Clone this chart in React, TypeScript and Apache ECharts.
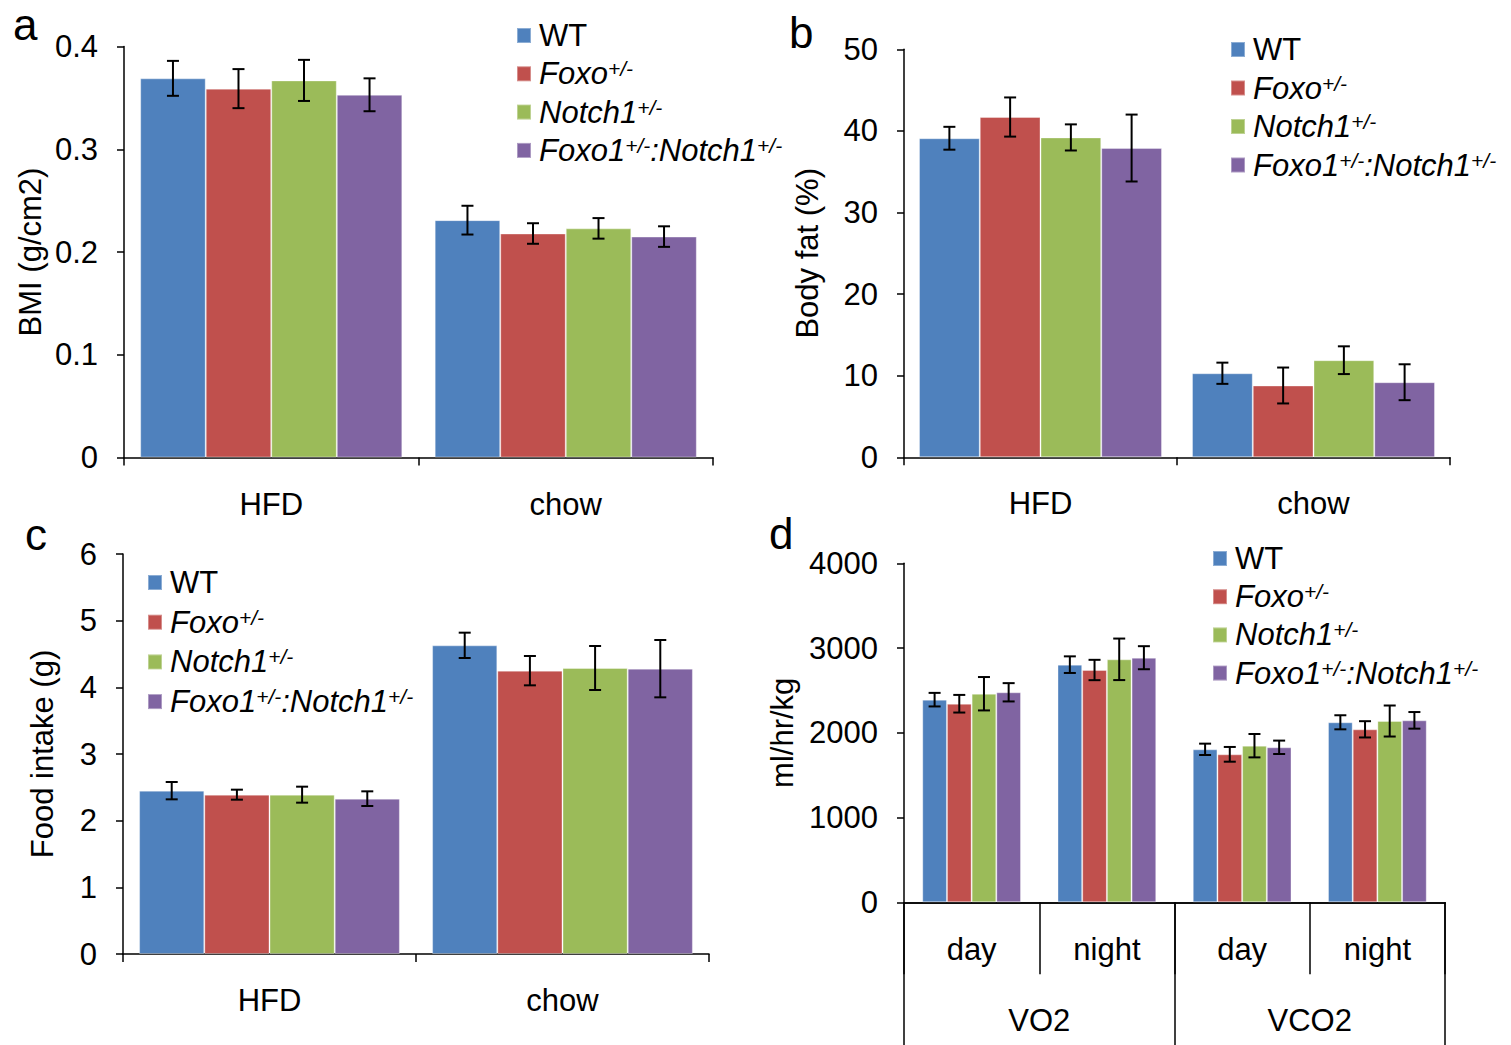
import React, { useEffect, useRef } from "react";
import * as echarts from "echarts";

// ---------- data ----------
const SERIES_NAMES = ["WT", "Foxo+/-", "Notch1+/-", "Foxo1+/-:Notch1+/-"];
const COLORS = ["#4F81BD", "#C0504D", "#9BBB59", "#8064A2"];

const DIET_CATS = ["HFD", "chow"];
const METAB_CATS = ["VO2|day", "VO2|night", "VCO2|day", "VCO2|night"];
const METAB_GROUPS = ["VO2", "VCO2"];

// panel a: BMI (g/cm2)
const bmiMeans = [
  [0.369, 0.231],
  [0.359, 0.218],
  [0.367, 0.223],
  [0.353, 0.215],
];
const bmiErrs = [
  [0.017, 0.014],
  [0.019, 0.01],
  [0.02, 0.01],
  [0.016, 0.01],
];

// panel b: Body fat (%)
const fatMeans = [
  [39.1, 10.3],
  [41.7, 8.8],
  [39.2, 11.9],
  [37.9, 9.2],
];
const fatErrs = [
  [1.4, 1.3],
  [2.4, 2.2],
  [1.6, 1.7],
  [4.1, 2.2],
];

// panel c: Food intake (g)
const foodMeans = [
  [2.45, 4.63],
  [2.39, 4.25],
  [2.39, 4.29],
  [2.33, 4.28],
];
const foodErrs = [
  [0.13, 0.19],
  [0.075, 0.22],
  [0.12, 0.33],
  [0.11, 0.43],
];

// panel d: ml/hr/kg
const metabMeans = [
  [2391, 2804, 1805, 2124],
  [2343, 2741, 1746, 2041],
  [2461, 2867, 1848, 2139],
  [2478, 2886, 1829, 2147],
];
const metabErrs = [
  [80, 98, 67, 83],
  [104, 120, 87, 96],
  [197, 245, 138, 183],
  [108, 136, 79, 98],
];

const FONT = '"Liberation Sans", Arial, Helvetica, sans-serif';
const FS = 31;

type Panel = {
  letter: string;
  letterX: number;
  letterY: number;
  grid: { left: number; top: number; width: number; height: number };
  cats: string[];
  means: number[][];
  errs: number[][];
  max: number;
  interval: number;
  yName: string;
  nameGap: number;
  gap: number;
  labelMargin: number;
  tickLen: number;
  legend: { left: number; top: number; itemGap: number };
};

const PANELS: Panel[] = [
  {
    letter: "a",
    letterX: 13,
    letterY: 2,
    grid: { left: 124, top: 46.5, width: 589, height: 411 },
    cats: DIET_CATS,
    means: bmiMeans,
    errs: bmiErrs,
    max: 0.4,
    interval: 0.1,
    yName: "BMI (g/cm2)",
    nameGap: 78,
    gap: 0.11,
    labelMargin: 31,
    tickLen: 8,
    legend: { left: 516, top: 20, itemGap: 7.3 },
  },
  {
    letter: "b",
    letterX: 789,
    letterY: 10,
    grid: { left: 904, top: 49.3, width: 546, height: 408 },
    cats: DIET_CATS,
    means: fatMeans,
    errs: fatErrs,
    max: 50,
    interval: 10,
    yName: "Body fat (%)",
    nameGap: 81,
    gap: 0.11,
    labelMargin: 31,
    tickLen: 8,
    legend: { left: 1230, top: 34, itemGap: 7.5 },
  },
  {
    letter: "c",
    letterX: 25,
    letterY: 512,
    grid: { left: 123, top: 554, width: 586, height: 400 },
    cats: DIET_CATS,
    means: foodMeans,
    errs: foodErrs,
    max: 6,
    interval: 1,
    yName: "Food intake (g)",
    nameGap: 65,
    gap: 0.11,
    labelMargin: 31,
    tickLen: 8,
    legend: { left: 147, top: 567, itemGap: 8.7 },
  },
  {
    letter: "d",
    letterX: 769,
    letterY: 511,
    grid: { left: 904, top: 563.3, width: 541, height: 339 },
    cats: METAB_CATS,
    means: metabMeans,
    errs: metabErrs,
    max: 4000,
    interval: 1000,
    yName: "ml/hr/kg",
    nameGap: 106,
    gap: 0.27,
    labelMargin: 32,
    tickLen: 72,
    legend: { left: 1212, top: 543, itemGap: 7.2 },
  },
];

function legendLabel(name: string): string {
  if (name === "WT") return "{n|WT}";
  if (name === "Foxo+/-") return "{i|Foxo}{s|+/-}";
  if (name === "Notch1+/-") return "{i|Notch1}{s|+/-}";
  return "{i|Foxo1}{s|+/-}{i|:Notch1}{s|+/-}";
}

const RICH = {
  n: { fontSize: FS, fontFamily: FONT, color: "#000", lineHeight: 31 },
  i: { fontSize: FS, fontFamily: FONT, fontStyle: "italic", color: "#000", lineHeight: 31 },
  s: {
    fontSize: 21,
    fontFamily: FONT,
    fontStyle: "italic",
    color: "#000",
    lineHeight: 26,
    verticalAlign: "top",
  },
};

function buildOption() {
  const grid: any[] = [];
  const xAxis: any[] = [];
  const yAxis: any[] = [];
  const series: any[] = [];
  const legend: any[] = [];
  const graphic: any[] = [];
  const axisLineStyle = { color: "#000", width: 1.5 };

  PANELS.forEach((p, pi) => {
    grid.push({ ...p.grid });
    xAxis.push({
      type: "category",
      gridIndex: pi,
      data: p.cats,
      axisLine: { show: true, lineStyle: axisLineStyle },
      axisTick: {
        show: true,
        alignWithLabel: false,
        interval: 0,
        length: p.tickLen,
        lineStyle: { color: "#000", width: 1.5 },
      },
      axisLabel: {
        color: "#000",
        fontSize: FS,
        fontFamily: FONT,
        margin: p.labelMargin,
        interval: 0,
        formatter: (v: string) => (v.indexOf("|") >= 0 ? v.split("|")[1] : v),
      },
    });
    yAxis.push({
      type: "value",
      gridIndex: pi,
      min: 0,
      max: p.max,
      interval: p.interval,
      name: p.yName,
      nameLocation: "middle",
      nameRotate: 90,
      nameGap: p.nameGap,
      nameTextStyle: { color: "#000", fontSize: FS, fontFamily: FONT },
      axisLine: { show: true, lineStyle: axisLineStyle },
      axisTick: { show: true, length: 7, lineStyle: { color: "#000", width: 1.5 } },
      axisLabel: {
        color: "#000",
        fontSize: FS,
        fontFamily: FONT,
        margin: 26,
        formatter: (v: number) => String(v),
      },
      splitLine: { show: false },
    });

    p.means.forEach((vals, k) => {
      series.push({
        type: "bar",
        name: SERIES_NAMES[k],
        xAxisIndex: pi,
        yAxisIndex: pi,
        data: vals,
        barGap: "0%",
        barCategoryGap: Math.round(p.gap * 100) + "%",
        itemStyle: { color: COLORS[k], borderColor: "rgba(255,255,255,0.35)", borderWidth: 1 },
      });
    });
    p.means.forEach((vals, k) => {
      const gap = p.gap;
      series.push({
        type: "custom",
        name: SERIES_NAMES[k],
        xAxisIndex: pi,
        yAxisIndex: pi,
        z: 10,
        clip: false,
        encode: { x: 0, y: 1 },
        data: vals.map((v, i) => [i, v, p.errs[k][i]]),
        renderItem: (params: any, api: any) => {
          const xi = api.value(0);
          const v = api.value(1);
          const e = api.value(2);
          const band = api.size([1, 0])[0];
          const barW = (band * (1 - gap)) / 4;
          const off = (k - 1.5) * barW;
          const top = api.coord([xi, v + e]);
          const bot = api.coord([xi, v - e]);
          const x = top[0] + off;
          const hw = 6;
          const style = { stroke: "#000", lineWidth: 2 };
          return {
            type: "group",
            children: [
              { type: "line", shape: { x1: x, y1: top[1], x2: x, y2: bot[1] }, style },
              { type: "line", shape: { x1: x - hw, y1: top[1], x2: x + hw, y2: top[1] }, style },
              { type: "line", shape: { x1: x - hw, y1: bot[1], x2: x + hw, y2: bot[1] }, style },
            ],
          };
        },
      });
    });

    legend.push({
      data: SERIES_NAMES.map((n) => ({ name: n, icon: "rect" })),
      orient: "vertical",
      left: p.legend.left,
      top: p.legend.top,
      itemWidth: 14,
      itemHeight: 15,
      itemGap: p.legend.itemGap,
      selectedMode: false,
      padding: 0,
      formatter: legendLabel,
      textStyle: { fontSize: FS, fontFamily: FONT, color: "#000", padding: [0, 0, 0, 3], rich: RICH },
    });

    graphic.push({
      type: "text",
      left: p.letterX,
      top: p.letterY,
      style: { text: p.letter, fontSize: 44, fontFamily: FONT, fill: "#000" },
    });
  });

  // secondary grouping axis for panel d
  const d = PANELS[3];
  grid.push({ ...d.grid });
  xAxis.push({
    type: "category",
    gridIndex: 4,
    data: METAB_GROUPS,
    axisLine: { show: true, lineStyle: axisLineStyle },
    axisTick: {
      show: true,
      alignWithLabel: false,
      interval: 0,
      length: 145,
      lineStyle: { color: "#000", width: 1.5 },
    },
    axisLabel: { color: "#000", fontSize: FS, fontFamily: FONT, margin: 103, interval: 0 },
  });
  yAxis.push({ type: "value", gridIndex: 4, min: 0, max: 1, show: false });

  return {
    animation: false,
    backgroundColor: "#fff",
    textStyle: { fontFamily: FONT },
    grid,
    xAxis,
    yAxis,
    legend,
    series,
    graphic,
  };
}

export default function App() {
  const ref = useRef<HTMLDivElement>(null);
  useEffect(() => {
    if (!ref.current) return;
    const chart = echarts.init(ref.current, undefined, { renderer: "svg" });
    chart.setOption(buildOption() as any);
    return () => chart.dispose();
  }, []);
  return (
    <div
      ref={ref}
      style={{ position: "absolute", left: 0, top: 0, width: 1511, height: 1045, background: "#fff" }}
    />
  );
}
